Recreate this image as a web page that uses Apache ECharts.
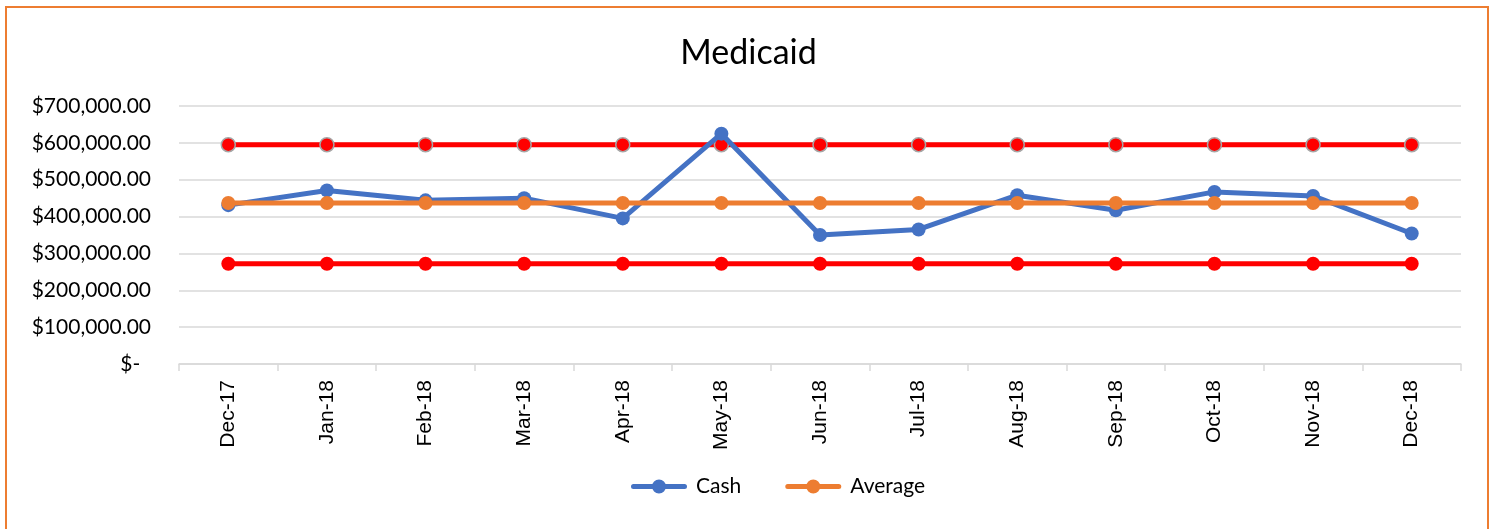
<!DOCTYPE html>
<html>
<head>
<meta charset="utf-8">
<script src="https://cdn.jsdelivr.net/npm/echarts@6/dist/echarts.min.js"></script>
<style>
  html, body { margin: 0; padding: 0; background: #fff; }
  #frame { position: absolute; left: 5px; top: 6px; width: 1484px; height: 540px; border: 2px solid #ED7D31; box-sizing: border-box; }
  #chart { position: absolute; left: 0; top: 0; width: 1497px; height: 529px; }
</style>
</head>
<body>
<div id="frame"></div>
<div id="chart"></div>
<script>
var months = ['Dec-17', 'Jan-18', 'Feb-18', 'Mar-18', 'Apr-18', 'May-18', 'Jun-18',
  'Jul-18', 'Aug-18', 'Sep-18', 'Oct-18', 'Nov-18', 'Dec-18']
var cash = [431000, 471000, 444000, 450000, 395000, 625000, 350000,
  365000, 458000, 417000, 467000, 456000, 354000]
var average = [437000, 437000, 437000, 437000, 437000, 437000, 437000,
  437000, 437000, 437000, 437000, 437000, 437000]
var upper = [595000, 595000, 595000, 595000, 595000, 595000, 595000,
  595000, 595000, 595000, 595000, 595000, 595000]
var lower = [272000, 272000, 272000, 272000, 272000, 272000, 272000,
  272000, 272000, 272000, 272000, 272000, 272000]

var myChart = echarts.init(document.getElementById('chart'))

// $700,000.00 style labels, zero shown as "$-"
function money(v) {
  if (v === 0) return '$-  '
  return '$' + v.toLocaleString('en-US', { minimumFractionDigits: 2, maximumFractionDigits: 2 })
}

// legend icon: thick line with a big dot in the middle
var lineDot = 'path://M2.5,5.5L53.5,5.5A2.5,2.5,0,0,1,53.5,10.5L2.5,10.5A2.5,2.5,0,0,1,2.5,5.5Z' +
  'M21,8A7,7,0,1,1,35,8A7,7,0,1,1,21,8Z'

var option = {
  animation: false,
  title: {
    text: 'Medicaid',
    left: 'center',
    top: 31,
    textStyle: { fontFamily: 'Lato', fontSize: 34, fontWeight: 'normal', color: '#000' }
  },
  legend: {
    data: [{ name: 'Cash', icon: lineDot }, { name: 'Average', icon: lineDot }],
    bottom: 27,
    left: 626,
    itemWidth: 56,
    itemHeight: 16,
    itemGap: 44,
    textStyle: { fontFamily: 'Lato', fontSize: 21, color: '#000', padding: [0, 0, 0, 4] }
  },
  grid: { left: 179, right: 36, top: 106, bottom: 165 },
  xAxis: {
    type: 'category',
    data: months,
    boundaryGap: true,
    axisLine: { lineStyle: { color: '#d9d9d9', width: 1.5 } },
    axisTick: { show: true, length: 7, lineStyle: { color: '#d9d9d9', width: 1.5 } },
    axisLabel: {
      rotate: 90,
      margin: 16,
      fontFamily: 'Liberation Sans',
      fontSize: 21,
      color: '#000'
    }
  },
  yAxis: {
    type: 'value',
    min: 0,
    max: 700000,
    interval: 100000,
    axisLine: { show: false },
    axisTick: { show: false },
    splitLine: { lineStyle: { color: '#d9d9d9', width: 1.5 } },
    axisLabel: {
      margin: 28,
      formatter: money,
      fontFamily: 'Lato',
      fontSize: 21,
      color: '#000'
    }
  },
  series: [
    {
      name: 'UCL',
      type: 'line',
      data: upper,
      symbol: 'circle',
      symbolSize: 14,
      lineStyle: { color: '#FF0000', width: 5 },
      itemStyle: { color: '#FF0000', borderColor: '#a6a6a6', borderWidth: 1.5 },
      z: 2
    },
    {
      name: 'LCL',
      type: 'line',
      data: lower,
      symbol: 'circle',
      symbolSize: 14,
      lineStyle: { color: '#FF0000', width: 5 },
      itemStyle: { color: '#FF0000' },
      z: 2
    },
    {
      name: 'Cash',
      type: 'line',
      data: cash,
      symbol: 'circle',
      symbolSize: 14,
      lineStyle: { color: '#4472C4', width: 5 },
      itemStyle: { color: '#4472C4' },
      z: 3
    },
    {
      name: 'Average',
      type: 'line',
      data: average,
      symbol: 'circle',
      symbolSize: 14,
      lineStyle: { color: '#ED7D31', width: 5 },
      itemStyle: { color: '#ED7D31' },
      z: 4
    }
  ]
}
myChart.setOption(option)

window.addEventListener('resize', function () {
  myChart.resize()
})
</script>
</body>
</html>
